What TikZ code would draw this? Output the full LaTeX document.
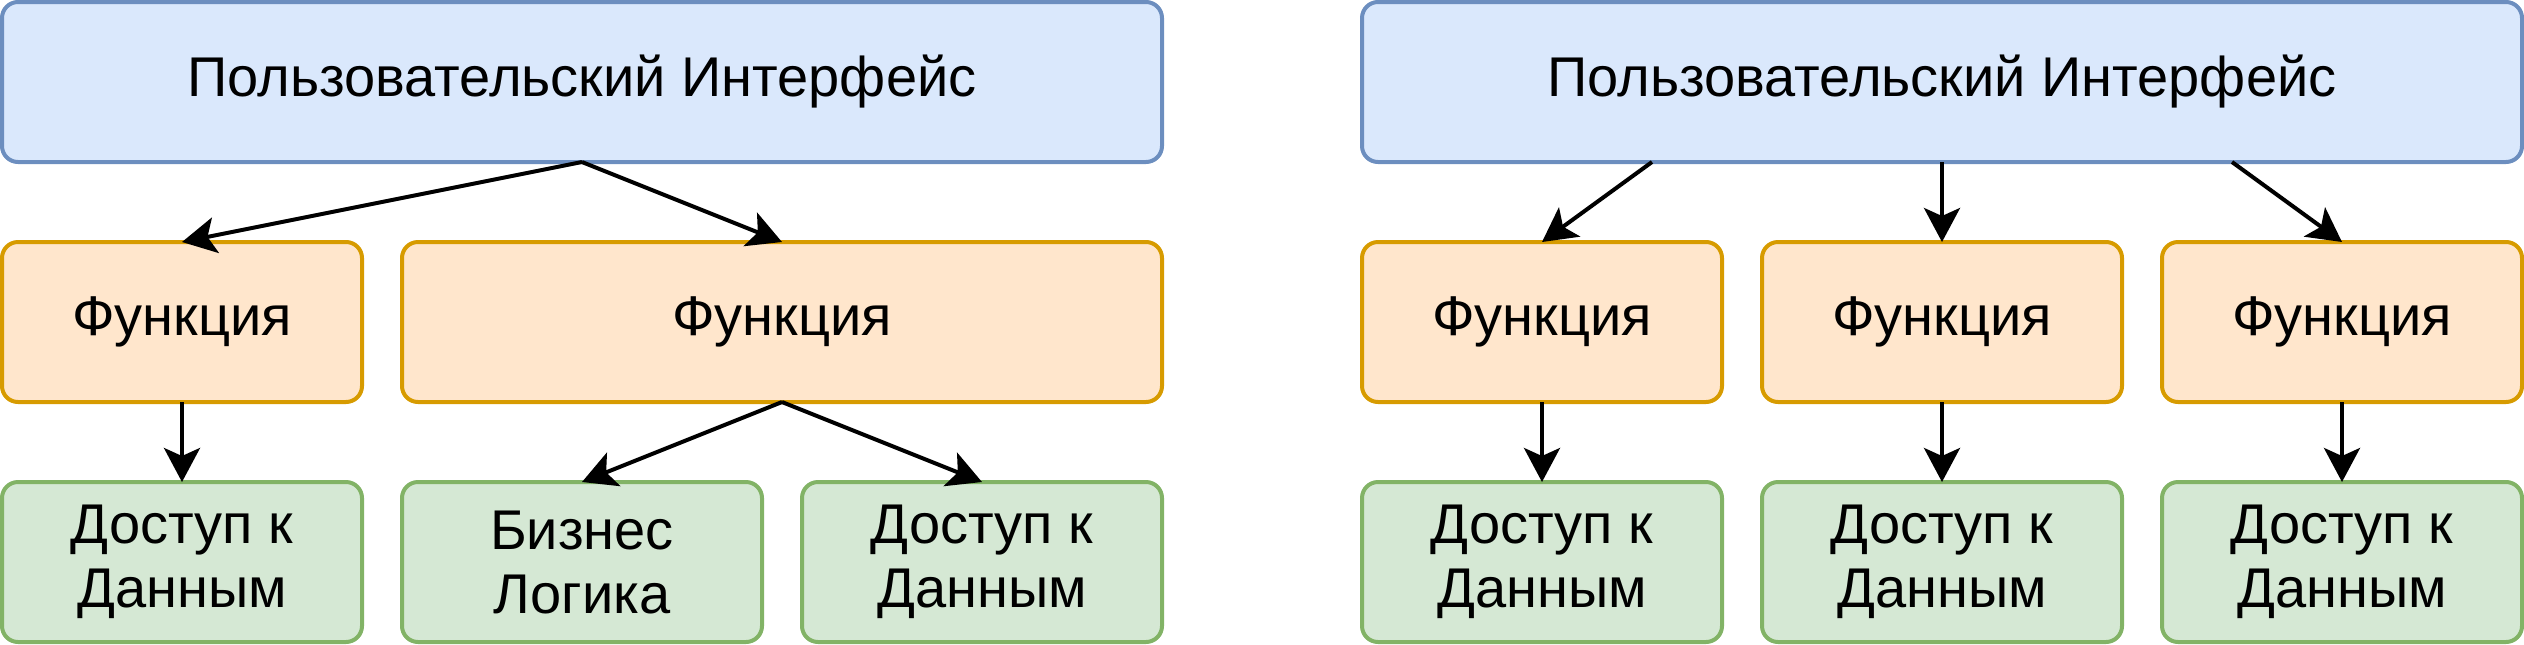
\documentclass[tikz,border=0pt]{standalone}
\usepackage{fontspec}
\setmainfont{Liberation Sans}
\usetikzlibrary{arrows.meta,calc}
\definecolor{bfill}{HTML}{DAE8FC}
\definecolor{bline}{HTML}{6C8EBF}
\definecolor{ofill}{HTML}{FFE6CC}
\definecolor{oline}{HTML}{D79B00}
\definecolor{gfill}{HTML}{D5E8D4}
\definecolor{gline}{HTML}{82B366}
\tikzset{
  box/.style={rectangle, rounded corners=8pt, line width=2pt, inner sep=0pt, outer sep=0pt,
    minimum height=80pt, align=center, font=\fontsize{28}{32}\selectfont},
  uibox/.style={box, fill=bfill, draw=bline, minimum width=580pt},
  fnbox/.style={box, fill=ofill, draw=oline, minimum width=180pt},
  widefn/.style={box, fill=ofill, draw=oline, minimum width=380pt},
  databox/.style={box, fill=gfill, draw=gline, minimum width=180pt},
  conn/.style={line width=2pt, -{Stealth[length=17pt, width=18pt, inset=4pt]}}
}
\begin{document}
\begin{tikzpicture}[x=1pt,y=1pt]
\useasboundingbox (0,0) rectangle (1262,-322);
% left diagram
\node[uibox] (lt) at (291,-41) {Пользовательский Интерфейс};
\node[fnbox] (lf1) at (91,-161) {Функция};
\node[widefn] (lf2) at (391,-161) {Функция};
\node[databox] (lb1) at (91,-281) {Доступ к\\Данным};
\node[databox] (lb2) at (291,-281) {Бизнес\\Логика};
\node[databox] (lb3) at (491,-281) {Доступ к\\Данным};
\draw[conn] (lt.south) -- (lf1.north);
\draw[conn] (lt.south) -- (lf2.north);
\draw[conn] (lf1.south) -- (lb1.north);
\draw[conn] (lf2.south) -- (lb2.north);
\draw[conn] (lf2.south) -- (lb3.north);
% right diagram
\node[uibox] (rt) at (971,-41) {Пользовательский Интерфейс};
\node[fnbox] (rf1) at (771,-161) {Функция};
\node[fnbox] (rf2) at (971,-161) {Функция};
\node[fnbox] (rf3) at (1171,-161) {Функция};
\node[databox] (rb1) at (771,-281) {Доступ к\\Данным};
\node[databox] (rb2) at (971,-281) {Доступ к\\Данным};
\node[databox] (rb3) at (1171,-281) {Доступ к\\Данным};
\coordinate (rtA) at ($(rt.south west)!0.25!(rt.south east)$);
\coordinate (rtB) at ($(rt.south west)!0.75!(rt.south east)$);
\draw[conn] (rtA) -- (rf1.north);
\draw[conn] (rt.south) -- (rf2.north);
\draw[conn] (rtB) -- (rf3.north);
\draw[conn] (rf1.south) -- (rb1.north);
\draw[conn] (rf2.south) -- (rb2.north);
\draw[conn] (rf3.south) -- (rb3.north);
\end{tikzpicture}
\end{document}
